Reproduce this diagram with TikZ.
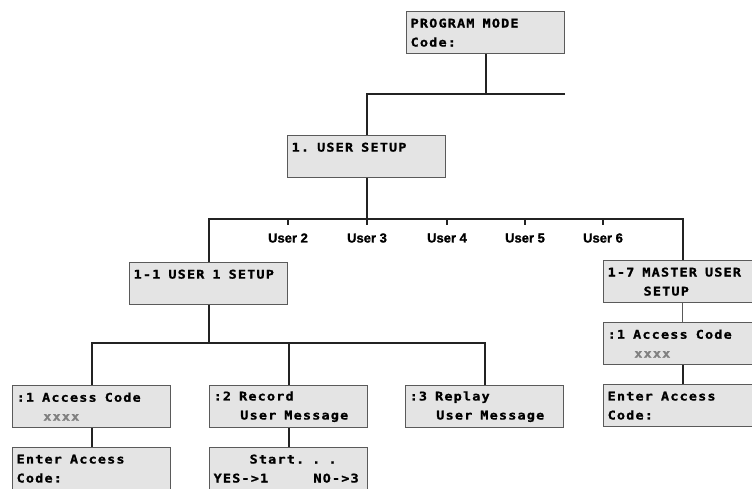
\documentclass[tikz,border=0pt]{standalone}
\usepackage{fontspec}
\usetikzlibrary{positioning}
\newfontfamily\lcdfont{DejaVu Sans Mono}[LetterSpace=10, FakeStretch=1.12, BoldFeatures={FakeBold=1.2}]
\newfontfamily\tagfont{Liberation Sans}[BoldFeatures={FakeBold=1.5}]
\definecolor{lcdfill}{RGB}{228,228,228}
\definecolor{lcdedge}{RGB}{90,90,90}
\definecolor{wire}{RGB}{35,35,35}
\tikzset{
    lcdbox/.style={rectangle, draw=lcdedge, fill=lcdfill, line width=1.3pt, anchor=north west, minimum width=158pt, minimum height=42pt, text width=150pt, inner xsep=4pt, inner ysep=0pt, align=left, font=\lcdfont\bfseries\fontsize{12}{19}\selectfont},
    link/.style={draw=wire, line width=1.8pt},
    thinlink/.style={draw=gray!70!black, line width=1pt},
    usertick/.style={draw=wire, line width=1.5pt},
    userlbl/.style={font=\tagfont\bfseries\fontsize{13}{14}\selectfont, inner sep=1pt}
}
\newcommand{\lsp}{\phantom{x}}
\newcommand{\dimx}{\textcolor{gray}{xxxx}}

\begin{document}
\begin{tikzpicture}[x=1pt, y=-1pt]
    \useasboundingbox (0,0) rectangle (752,488);
    \clip (0,0) rectangle (752,488);
    % menu boxes
    \node[lcdbox] (pm) at (406,11) {PROGRAM\lsp MODE\\Code:};
    \node[lcdbox] (us) at (287,135) {1.\lsp USER\lsp SETUP\\\mbox{}};
    \node[lcdbox] (u1) at (129,262) {1-1\lsp USER\lsp 1\lsp SETUP\\\mbox{}};
    \node[lcdbox] (ms) at (603,260) {1-7\lsp MASTER\lsp USER\\\phantom{xxxx}SETUP};
    \node[lcdbox] (ac) at (12,385) {:1\lsp Access\lsp Code\\\phantom{xxx}\dimx};
    \node[lcdbox] (rec) at (209,385) {:2\lsp Record\\\phantom{xxx}User\lsp Message};
    \node[lcdbox] (rep) at (405,385) {:3\lsp Replay\\\phantom{xxx}User\lsp Message};
    \node[lcdbox] (mac) at (603,322) {:1\lsp Access\lsp Code\\\phantom{xxx}\dimx};
    \node[lcdbox] (ea) at (12,447) {Enter\lsp Access\\Code:};
    \node[lcdbox] (st) at (209,447) {\phantom{xxxx}Start.\lsp.\lsp.\\YES->1\phantom{xxxxx}NO->3};
    \node[lcdbox] (mea) at (603,384) {Enter\lsp Access\\Code:};
    % buses
    \coordinate (b1e) at (565,94);
    \coordinate (b2) at (0,219);
    \coordinate (b3) at (0,343);
    \draw[link] (pm.south) -- (pm.south |- b1e);
    \draw[link] (b1e) -| (us.north);
    \draw[link] (us.south) -- (us.south |- b2);
    \draw[link] (u1.north) |- (ms.north |- b2) -- (ms.north);
    \foreach \ux/\un in {288/2, 367/3, 447/4, 525/5, 603/6} {
        \draw[usertick] (\ux,219) -- (\ux,225);
        \node[userlbl] (user\un) at (\ux,238) {User \un};
    }
    \draw[link] (u1.south) -- (u1.south |- b3);
    \draw[link] (ac.north) |- (rep.north |- b3) -- (rep.north);
    \draw[link] (rec.north) -- (rec.north |- b3);
    \draw[link] (ac.south) -- (ea.north);
    \draw[link] (rec.south) -- (st.north);
    \draw[thinlink] (ms.south) -- (mac.north);
    \draw[link] (mac.south) -- (mea.north);
\end{tikzpicture}
\end{document}
